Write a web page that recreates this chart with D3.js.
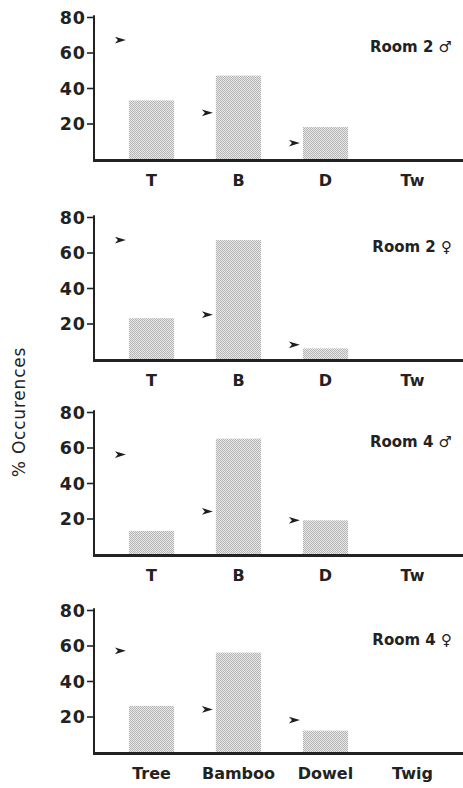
<!DOCTYPE html>
<html>
<head>
<meta charset="utf-8">
<script src="https://cdn.jsdelivr.net/npm/d3@7"></script>
<style>
  body { margin: 0; background: #fff; }
  svg { display: block; }
  text { font-family: "DejaVu Sans", sans-serif; fill: #222; }
</style>
</head>
<body>
<div id="chart"></div>
<script>
// data
const categories = ["T", "B", "D", "Tw"]
const lastCategories = ["Tree", "Bamboo", "Dowel", "Twig"]
const panelTitles = ["Room 2 \u2642", "Room 2 \u2640", "Room 4 \u2642", "Room 4 \u2640"]
const yTicks = [20, 40, 60, 80]

// observed % occurences (bars)
const observed = [
    [33, 47, 18, 0],
    [23, 67, 6, 0],
    [13, 65, 19, 0],
    [26, 56, 12, 0]
]
// arrowheads (expected level)
const expected = [
    [67, 26, 9],
    [67, 25, 8],
    [56, 24, 19],
    [57, 24, 18]
]

const W = 463, H = 788
// y pixel of the 80 tick for each panel, panel plot height
const panelTop = [17, 217, 412, 610]
const plotH = 142
const axisX = 94

const svg = d3.select("#chart")
    .append("svg")
    .attr("width", W)
    .attr("height", H)

// stipple pattern for the bars
const defs = svg.append("defs")
const pat = defs.append("pattern")
    .attr("id", "stipple")
    .attr("width", 2).attr("height", 2)
    .attr("patternUnits", "userSpaceOnUse")
pat.append("rect").attr("width", 2).attr("height", 2).attr("fill", "#e9e9e9")
pat.append("rect").attr("x", 0).attr("y", 0).attr("width", 1).attr("height", 1).attr("fill", "#b4b4b4")
pat.append("rect").attr("x", 1).attr("y", 1).attr("width", 1).attr("height", 1).attr("fill", "#b4b4b4")

const x = d3.scaleBand()
    .domain(d3.range(categories.length))
    .range([108, 456])
    .paddingInner(0.48)
    .paddingOuter(0.24)

panelTitles.forEach(function (title, p) {
    const y = d3.scaleLinear()
        .domain([0, 80])
        .range([panelTop[p] + plotH, panelTop[p]])

    const g = svg.append("g")
    const labels = p === 3 ? lastCategories : categories

    // bars
    g.selectAll("rect.bar")
        .data(observed[p])
        .join("rect")
        .attr("class", "bar")
        .attr("x", (d, i) => x(i))
        .attr("width", x.bandwidth())
        .attr("y", d => y(d))
        .attr("height", d => y(0) - y(d))
        .attr("fill", "url(#stipple)")

    // arrowheads
    g.selectAll("path.arrow")
        .data(expected[p])
        .join("path")
        .attr("class", "arrow")
        .attr("transform", (d, i) => `translate(${x(i) - 3},${y(d)})`)
        .attr("d", "M0,0 L-11,-3.4 L-8,0 L-11,3.4 Z")
        .attr("fill", "#1e1e1e")

    // y axis
    const yAxis = g.append("g")
        .attr("transform", `translate(${axisX},0)`)
        .call(d3.axisLeft(y).tickValues(yTicks).tickSize(7).tickSizeOuter(0).tickPadding(1))
    yAxis.select(".domain")
        .attr("d", `M0,${y(81)}V${y(0) + 2}`)
        .attr("stroke", "#222")
        .attr("stroke-width", 2)
    yAxis.selectAll(".tick line").attr("stroke", "#222").attr("stroke-width", 1.6)
    yAxis.selectAll(".tick text")
        .attr("font-size", 17.5)
        .attr("font-weight", "bold")
        .attr("letter-spacing", 1)
        .attr("dy", "0.36em")
        .attr("fill", "#222")
        .style("font-family", "DejaVu Sans, sans-serif")

    // baseline
    g.append("line")
        .attr("x1", axisX - 1).attr("x2", W)
        .attr("y1", y(0) + 1.5).attr("y2", y(0) + 1.5)
        .attr("stroke", "#222")
        .attr("stroke-width", 3)

    // category labels
    const xAxis = g.append("g")
        .attr("transform", `translate(0,${y(0) + 13})`)
        .call(d3.axisBottom(x).tickSize(0).tickFormat(i => labels[i]))
    xAxis.select(".domain").remove()
    xAxis.selectAll(".tick text")
        .attr("font-size", 16)
        .attr("font-weight", "bold")
        .attr("fill", "#222")
        .style("font-family", "DejaVu Sans, sans-serif")

    // panel title
    g.append("text")
        .attr("x", 452)
        .attr("y", panelTop[p] + 35)
        .attr("text-anchor", "end")
        .attr("font-size", 15)
        .attr("font-weight", "bold")
        .text(title)
})

// y axis title
svg.append("text")
    .attr("transform", "translate(25,412) rotate(-90)")
    .attr("text-anchor", "middle")
    .attr("font-size", 17)
    .attr("letter-spacing", 0.8)
    .text("% Occurences")
</script>
</body>
</html>
